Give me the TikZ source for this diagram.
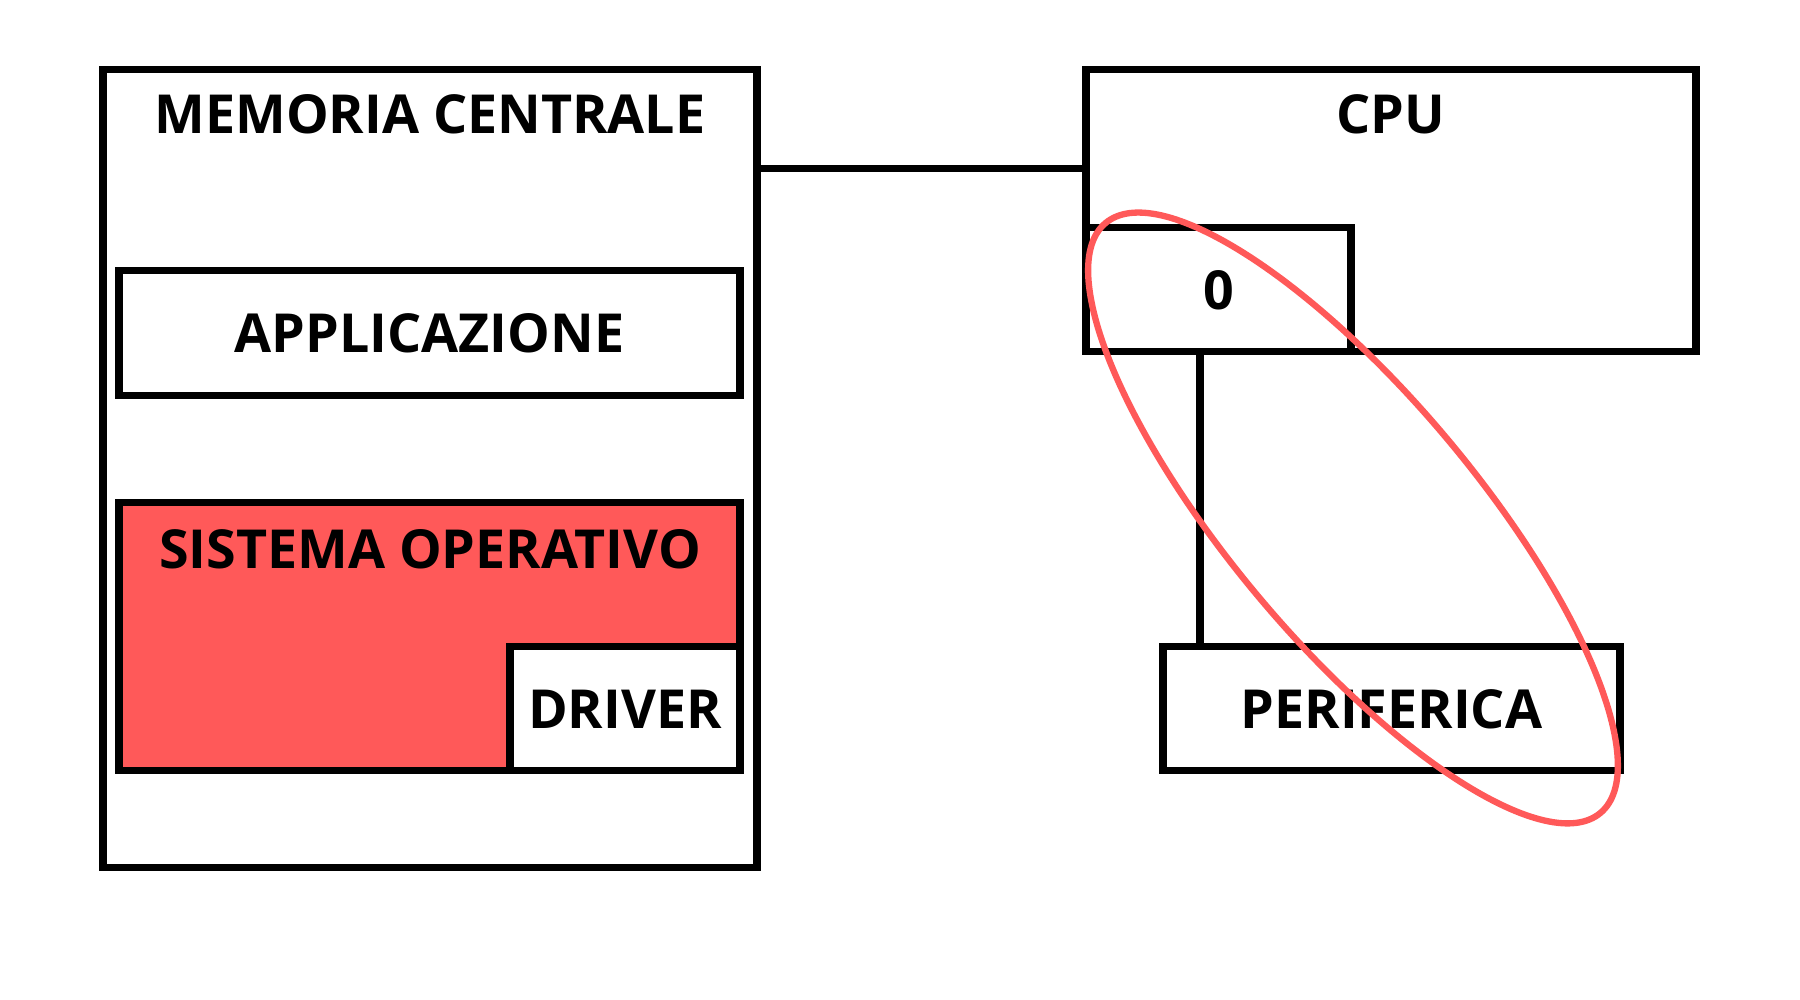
\documentclass[tikz,border=0pt]{standalone}
\usepackage{fontspec}
\setmainfont{Open Sans}
\usetikzlibrary{positioning}
\definecolor{osred}{RGB}{255,89,89}
\begin{document}
\begin{tikzpicture}[line join=miter, font=\bfseries\fontsize{15.3}{18}\selectfont]
	\tikzset{box/.style={draw, line width=2pt, inner sep=0pt, minimum height=1.24cm},
	link/.style={line width=2pt}}
	\useasboundingbox (0,0) rectangle (18,10);
	% memoria
	\node[box, minimum width=6.54cm, minimum height=7.98cm] (mem) at (4.30,5.31) {};
	\node[anchor=base] (memtxt) at (4.30,8.66) {MEMORIA CENTRALE};
	\node[box, minimum width=6.21cm, minimum height=1.25cm] (app) at (4.295,6.665) {APPLICAZIONE};
	\node[box, fill=osred, minimum width=6.21cm, minimum height=2.68cm] (so) at (4.295,3.63) {};
	\node[anchor=base] (sotxt) at (4.30,4.31) {SISTEMA OPERATIVO};
	\node[box, fill=white, minimum width=2.30cm] (drv) at (6.25,2.91) {DRIVER};
	% cpu
	\node[box, minimum width=6.10cm, minimum height=2.82cm] (cpu) at (13.91,7.89) {};
	\node[anchor=base] (cputxt) at (13.91,8.66) {CPU};
	\node[box, minimum width=2.65cm] (reg) at (12.185,7.10) {0};
	\node[box, minimum width=4.57cm] (per) at (13.915,2.91) {PERIFERICA};
	\draw[link] (mem.east |- 0,8.31) -- (cpu.west |- 0,8.31);
	\draw[link] (reg.south -| 12.00,0) -- (per.north -| 12.00,0);
	% evidenziato
	\draw[osred, line width=1.8pt, rotate around={-50:(13.53,4.82)}] (13.53,4.82) ellipse (3.85 and 1.23);
\end{tikzpicture}
\end{document}
